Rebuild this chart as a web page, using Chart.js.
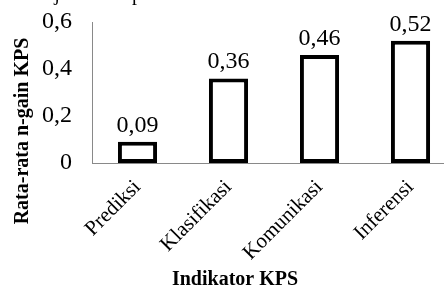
<!DOCTYPE html>
<html>
<head>
<meta charset="utf-8">
<script src="https://cdn.jsdelivr.net/npm/chart.js@4/dist/chart.umd.min.js"></script>
<style>
  body { margin: 0; overflow: hidden; background: #fff; }
  #wrap { width: 460px; height: 289px; }
</style>
</head>
<body>
<div id="wrap"><canvas id="myChart" width="460" height="289"></canvas></div>
<script>
'use strict';
let categories = ['Prediksi', 'Klasifikasi', 'Komunikasi', 'Inferensi'];
let ngain = [0.09, 0.36, 0.46, 0.52];
let yTicks = [0, 0.2, 0.4, 0.6];
let serif = '"Liberation Serif", "Times New Roman", serif';
let axisGray = '#898989';

function comma(v, d) {
    return v.toFixed(d).replace('.', ',');
}

// value labels above the bars + the axis titles
let extras = {
    id: 'extras',
    afterDatasetsDraw(chart) {
        let ctx = chart.ctx;
        let meta = chart.getDatasetMeta(0);
        ctx.save();
        ctx.fillStyle = '#000';
        ctx.font = '24px ' + serif;
        ctx.textAlign = 'center';
        ctx.textBaseline = 'alphabetic';
        meta.data.forEach(function (bar, i) {
            ctx.fillText(comma(ngain[i], 2), bar.x, bar.y - 10);
        });
        ctx.restore();
    },
    afterDraw(chart) {
        let ctx = chart.ctx;
        ctx.save();
        ctx.fillStyle = '#000';
        ctx.font = 'bold 20px ' + serif;
        ctx.textAlign = 'center';
        ctx.textBaseline = 'middle';
        // x axis title (centred on the whole figure, not the plot)
        ctx.fillText('Indikator KPS', 235, 280);
        // y axis title
        ctx.translate(23, 131);
        ctx.rotate(-Math.PI / 2);
        ctx.fillText('Rata-rata n-gain KPS', 0, 0);
        ctx.restore();
        // chart title, cut off at the top of the picture
        ctx.save();
        ctx.fillStyle = '#000';
        ctx.font = '20px ' + serif;
        ctx.textAlign = 'left';
        ctx.textBaseline = 'alphabetic';
        ctx.fillText('Hasil uji KPS tiap indikator', -3, 0);
        ctx.restore();
    }
};

let ctx = document.getElementById('myChart').getContext('2d');
let myChart = new Chart(ctx, {
    type: 'bar',
    data: {
        labels: categories,
        datasets: [{
            data: ngain,
            backgroundColor: '#ffffff',
            borderColor: '#000000',
            borderWidth: 4,
            borderSkipped: false,
            categoryPercentage: 1,
            barPercentage: 0.43
        }]
    },
    options: {
        responsive: false,
        animation: false,
        layout: { padding: { left: 42, top: 22, right: 4, bottom: 0 } },
        plugins: {
            legend: { display: false },
            tooltip: { enabled: false }
        },
        scales: {
            y: {
                min: 0,
                max: 0.6,
                afterBuildTicks: function (axis) {
                    axis.ticks = yTicks.map(function (v) { return { value: v }; });
                },
                afterFit: function (scale) {
                    scale.paddingTop = 0;
                    scale.paddingBottom = 0;
                    scale.width = 50;
                },
                grid: { display: false, drawTicks: false },
                border: { display: true, color: axisGray, width: 1 },
                ticks: {
                    color: '#000',
                    padding: 20,
                    font: { family: serif, size: 24 },
                    callback: function (v) { return v === 0 ? '0' : comma(v, 1); }
                }
            },
            x: {
                afterFit: function (scale) {
                    scale.paddingLeft = 0;
                    scale.paddingRight = 0;
                    scale.height = 126;
                },
                grid: { display: false, drawTicks: false },
                border: { display: true, color: axisGray, width: 1 },
                ticks: {
                    color: '#000',
                    padding: 12,
                    minRotation: 45,
                    maxRotation: 45,
                    font: { family: serif, size: 21 }
                }
            }
        }
    },
    plugins: [extras]
});
</script>
</body>
</html>
